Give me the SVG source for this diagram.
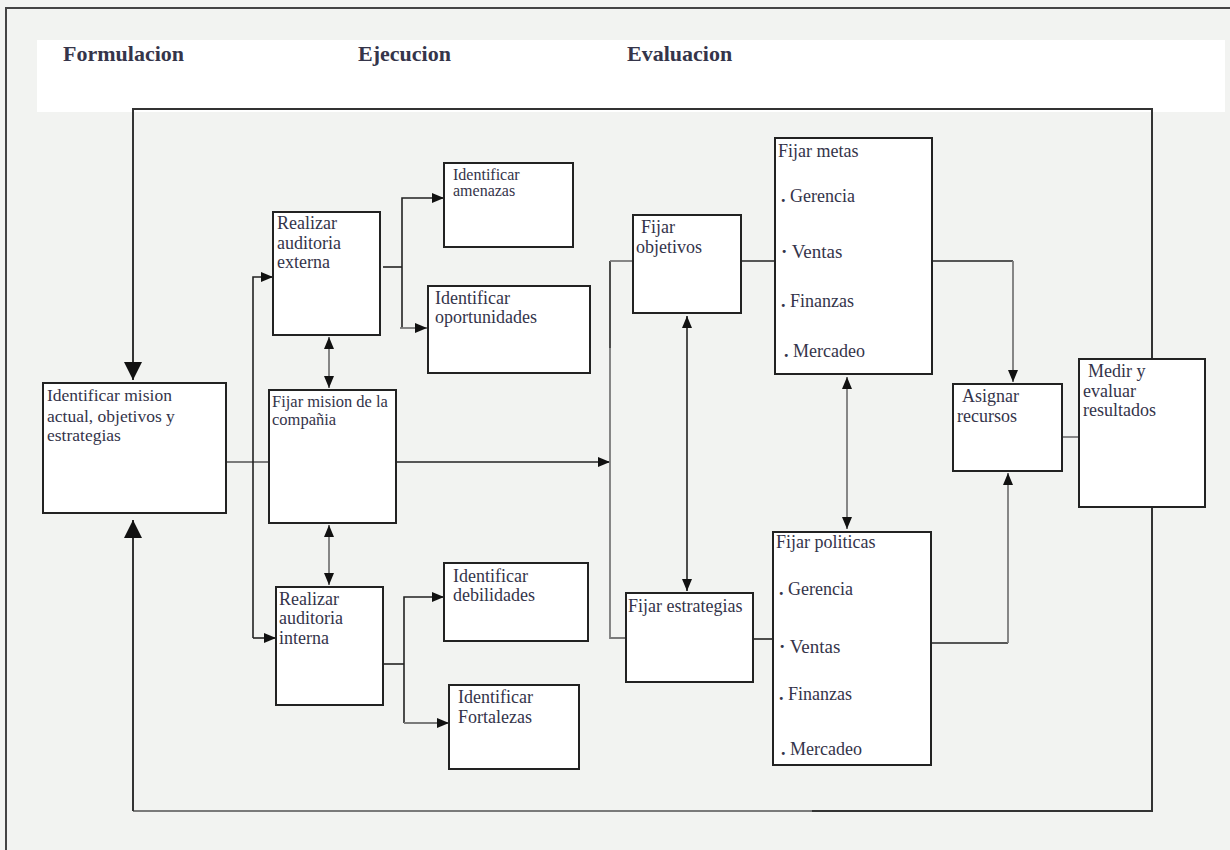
<svg xmlns="http://www.w3.org/2000/svg" width="1230" height="850" viewBox="0 0 1230 850">
  <style>
    .box { fill: #ffffff; stroke: #222222; stroke-width: 2; }
    .t { font-family: "Liberation Serif", "Times New Roman", serif; fill: #34344a; }
    .head { font-family: "Liberation Serif", "Times New Roman", serif; font-weight: bold; font-size: 22px; fill: #35354a; }
    .ln { fill: none; stroke: #222222; stroke-width: 1.6; }
    .gr { fill: none; stroke: #7a7a7a; stroke-width: 1.8; }
    .loop { fill: none; stroke: #333333; stroke-width: 2; }
    .dot { font-weight: bold; }
  </style>
  <defs>
    <marker id="arrS" markerUnits="userSpaceOnUse" markerWidth="12" markerHeight="10" refX="12" refY="5" orient="auto-start-reverse">
      <path d="M0,0 L12,5 L0,10 z" fill="#111111"/>
    </marker>
    <marker id="arrB" markerUnits="userSpaceOnUse" markerWidth="18" markerHeight="18" refX="18" refY="9" orient="auto">
      <path d="M0,0 L18,9 L0,18 z" fill="#111111"/>
    </marker>
  </defs>

  <!-- page background, frame and heading band -->
  <rect x="0" y="0" width="1230" height="850" fill="#f2f3f1"/>
  <path d="M6,850 V8 H1230" fill="none" stroke="#444444" stroke-width="2"/>
  <rect x="37" y="40" width="1188" height="72" fill="#ffffff"/>
  <g id="headings">
    <text class="head" x="63" y="61">Formulacion</text>
    <text class="head" x="358" y="61">Ejecucion</text>
    <text class="head" x="627" y="61">Evaluacion</text>
  </g>

  <!-- connectors -->
  <g id="connectors">
    <!-- feedback loop, top and bottom -->
    <path class="loop" d="M1152,359 V109 H133 V380" marker-end="url(#arrB)"/>
    <path class="loop" d="M1152,507 V811 H812"/>
    <path class="gr" d="M812,811 H133"/>
    <path class="loop" d="M133,811 V520" marker-end="url(#arrB)"/>

    <!-- mission to company mission -->
    <path class="gr" d="M226,462 H269"/>
    <!-- split to external / internal audit -->
    <path class="ln" d="M253,638 V277 H273" marker-end="url(#arrS)"/>
    <path class="ln" d="M253,638 H276" marker-end="url(#arrS)"/>
    <!-- audits linked to company mission -->
    <path class="gr" d="M329,337 V388" marker-start="url(#arrS)" marker-end="url(#arrS)"/>
    <path class="gr" d="M329,525 V585" marker-start="url(#arrS)" marker-end="url(#arrS)"/>

    <!-- external audit branches -->
    <path class="ln" d="M383,267 H402"/>
    <path class="ln" d="M402,328 V198 H444" marker-end="url(#arrS)"/>
    <path class="gr" d="M400,328 H427" marker-end="url(#arrS)"/>
    <!-- internal audit branches -->
    <path class="ln" d="M383,664 H404"/>
    <path class="ln" d="M404,723 V597 H444" marker-end="url(#arrS)"/>
    <path class="gr" d="M404,723 H449" marker-end="url(#arrS)"/>

    <!-- company mission to objectives / strategies -->
    <path class="ln" d="M396,462 H610" marker-end="url(#arrS)"/>
    <path class="ln" d="M610,348 V261"/>
    <path class="gr" d="M610,261 H633"/>
    <path class="gr" d="M610,348 V638 H626"/>
    <path class="ln" d="M687,316 V591" marker-start="url(#arrS)" marker-end="url(#arrS)"/>

    <!-- objectives / strategies to goals / policies -->
    <path class="ln" d="M741,261 H775"/>
    <path class="ln" d="M753,639 H773"/>
    <path class="gr" d="M847,377 V529" marker-start="url(#arrS)" marker-end="url(#arrS)"/>

    <!-- goals / policies to resources -->
    <path class="ln" d="M932,261 H1013"/>
    <path class="gr" d="M1013,261 V382" marker-end="url(#arrS)"/>
    <path class="ln" d="M926,643 H1008"/>
    <path class="gr" d="M1008,643 V473" marker-end="url(#arrS)"/>
    <!-- resources to results -->
    <path class="gr" d="M1062,437 H1079"/>
  </g>

  <!-- nodes -->
  <g id="n-identificar-mision">
    <rect class="box" x="43" y="383" width="183" height="130"/>
    <text class="t" font-size="17.5" x="47" y="401">Identificar mision</text>
    <text class="t" font-size="17.5" x="47" y="422">actual, objetivos y</text>
    <text class="t" font-size="17.5" x="47" y="441">estrategias</text>
  </g>
  <g id="n-fijar-mision">
    <rect class="box" x="269" y="390" width="127" height="133"/>
    <text class="t" font-size="16.5" x="272" y="407">Fijar mision de la</text>
    <text class="t" font-size="16.5" x="272" y="425">compañia</text>
  </g>
  <g id="n-auditoria-externa">
    <rect class="box" x="273" y="212" width="107" height="123"/>
    <text class="t" font-size="18" x="277" y="229">Realizar</text>
    <text class="t" font-size="18" x="277" y="249">auditoria</text>
    <text class="t" font-size="18" x="277" y="268">externa</text>
  </g>
  <g id="n-amenazas">
    <rect class="box" x="444" y="163" width="129" height="84"/>
    <text class="t" font-size="16" x="453" y="180">Identificar</text>
    <text class="t" font-size="16" x="453" y="196">amenazas</text>
  </g>
  <g id="n-oportunidades">
    <rect class="box" x="428" y="286" width="162" height="87"/>
    <text class="t" font-size="18" x="435" y="304">Identificar</text>
    <text class="t" font-size="18" x="435" y="323">oportunidades</text>
  </g>
  <g id="n-auditoria-interna">
    <rect class="box" x="276" y="587" width="107" height="118"/>
    <text class="t" font-size="18" x="279" y="605">Realizar</text>
    <text class="t" font-size="18" x="279" y="624">auditoria</text>
    <text class="t" font-size="18" x="279" y="644">interna</text>
  </g>
  <g id="n-debilidades">
    <rect class="box" x="444" y="563" width="144" height="78"/>
    <text class="t" font-size="18" x="453" y="582">Identificar</text>
    <text class="t" font-size="18" x="453" y="601">debilidades</text>
  </g>
  <g id="n-fortalezas">
    <rect class="box" x="449" y="685" width="130" height="84"/>
    <text class="t" font-size="18" x="458" y="703">Identificar</text>
    <text class="t" font-size="18" x="458" y="723">Fortalezas</text>
  </g>
  <g id="n-objetivos">
    <rect class="box" x="633" y="215" width="108" height="98"/>
    <text class="t" font-size="18" x="641" y="233">Fijar</text>
    <text class="t" font-size="18" x="636" y="253">objetivos</text>
  </g>
  <g id="n-estrategias">
    <rect class="box" x="626" y="593" width="127" height="89"/>
    <text class="t" font-size="18" x="628" y="612">Fijar estrategias</text>
  </g>
  <g id="n-metas">
    <rect class="box" x="775" y="138" width="157" height="236"/>
    <text class="t" font-size="18" x="778" y="157">Fijar metas</text>
    <text class="t" font-size="18" x="781" y="202"><tspan class="dot">.</tspan> Gerencia</text>
    <text class="t" font-size="19" x="781" y="258" fill="#111111"><tspan class="dot">·</tspan> Ventas</text>
    <text class="t" font-size="18" x="781" y="307"><tspan class="dot">.</tspan> Finanzas</text>
    <text class="t" font-size="18" x="784" y="357"><tspan class="dot">.</tspan> Mercadeo</text>
  </g>
  <g id="n-politicas">
    <rect class="box" x="773" y="532" width="158" height="233"/>
    <text class="t" font-size="18" x="776" y="548">Fijar politicas</text>
    <text class="t" font-size="18" x="779" y="595"><tspan class="dot">.</tspan> Gerencia</text>
    <text class="t" font-size="19" x="779" y="653" fill="#111111"><tspan class="dot">·</tspan> Ventas</text>
    <text class="t" font-size="18" x="779" y="700"><tspan class="dot">.</tspan> Finanzas</text>
    <text class="t" font-size="18" x="781" y="755"><tspan class="dot">.</tspan> Mercadeo</text>
  </g>
  <g id="n-asignar">
    <rect class="box" x="953" y="384" width="109" height="87"/>
    <text class="t" font-size="18" x="962" y="402">Asignar</text>
    <text class="t" font-size="18" x="957" y="422">recursos</text>
  </g>
  <g id="n-medir">
    <rect class="box" x="1079" y="359" width="126" height="148"/>
    <text class="t" font-size="18" x="1088" y="377">Medir y</text>
    <text class="t" font-size="18" x="1083" y="397">evaluar</text>
    <text class="t" font-size="18" x="1083" y="416">resultados</text>
  </g>
</svg>
